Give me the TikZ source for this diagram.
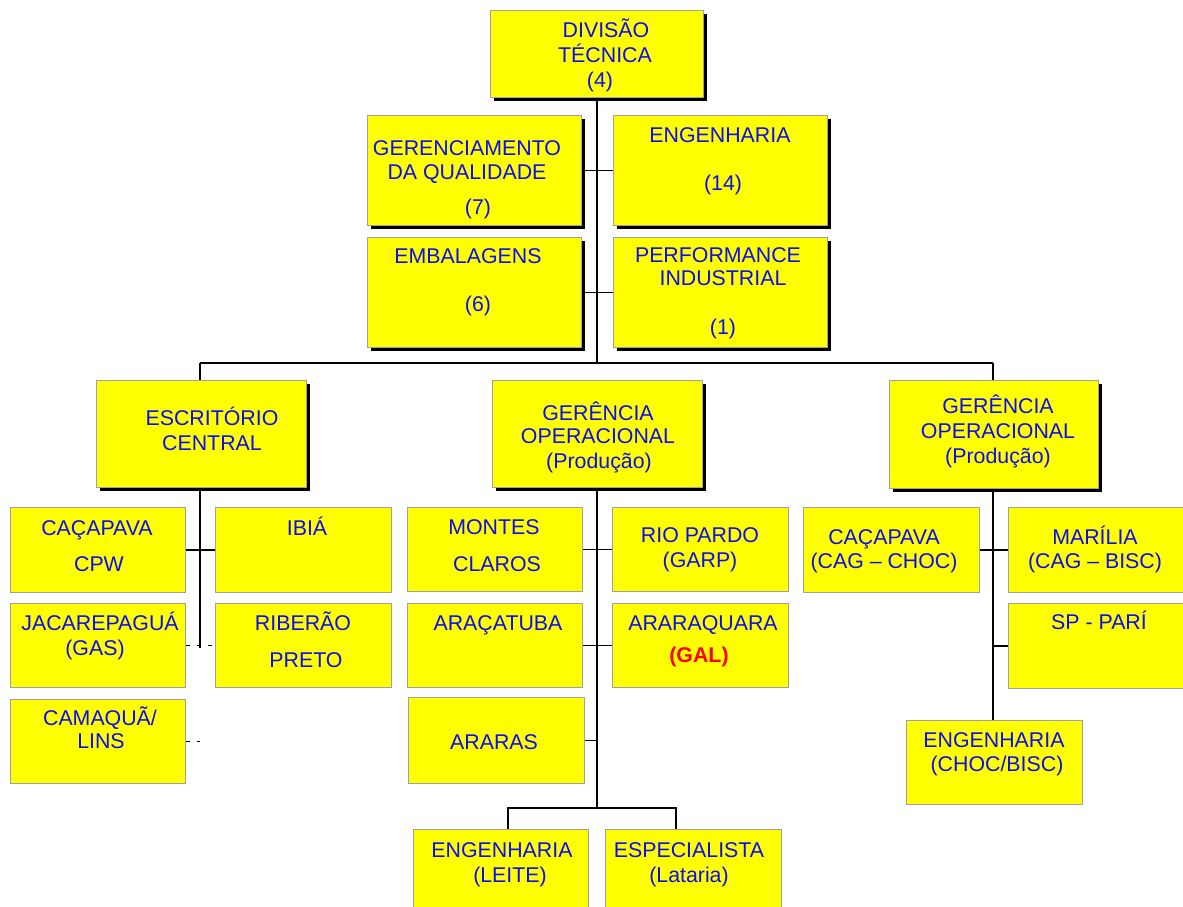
\documentclass[tikz,border=0pt]{standalone}
\usepackage{fontspec}
\setmainfont{Liberation Sans}
\usetikzlibrary{shadows}
\definecolor{tb}{RGB}{12,12,245}
\definecolor{yl}{RGB}{255,255,0}
\definecolor{bd}{RGB}{160,160,160}
\newcommand\fsz{\fontsize{16}{18}\selectfont}
\begin{document}
\begin{tikzpicture}[x=0.75pt,y=-0.75pt,
 box/.style 2 args={draw=bd, fill=yl, line width=0.9pt, inner sep=0pt, anchor=north west, minimum width=#1*0.75pt, minimum height=#2*0.75pt},
 shd/.style={drop shadow={shadow xshift=2.4pt, shadow yshift=-2.4pt, fill=black, opacity=1}},
 tl/.style={text=tb, font=\fsz, inner sep=0pt, text height=11.45pt, text depth=0pt},
 ln/.style={line width=1.2pt, black},
 dl/.style={ln, dash pattern=on 3pt off 5pt}]
\useasboundingbox (0,0) rectangle (1183,907);
\clip (0,0) rectangle (1183,907);
% boxes with shadow
\node[box={213}{87},shd] (dt) at (490,10) {};
\node[box={214}{110},shd] (ger) at (367,115) {};
\node[box={214}{110},shd] (eng) at (613,115) {};
\node[box={214}{110},shd] (emb) at (367,237) {};
\node[box={214}{110},shd] (perf) at (613,237) {};
\node[box={210}{107},shd] (ec) at (96,380) {};
\node[box={210}{107},shd] (go1) at (492,380) {};
\node[box={209}{108},shd] (go2) at (889,380) {};
% left
\node[box={175}{85}] (cac) at (10,507) {};
\node[box={176}{85}] (ibi) at (215,507) {};
\node[box={175}{84}] (jac) at (10,603) {};
\node[box={176}{84}] (rib) at (215,603) {};
\node[box={175}{84}] (cam) at (10,699) {};
% middle
\node[box={175}{84}] (mon) at (407,507) {};
\node[box={176}{84}] (rio) at (612,507) {};
\node[box={175}{84}] (arc) at (407,603) {};
\node[box={176}{84}] (arq) at (612,603) {};
\node[box={176}{86}] (arr) at (408,697) {};
\node[box={175}{100}] (eli) at (413,829) {};
\node[box={176}{100}] (esp) at (605,829) {};
% right
\node[box={176}{85}] (cg) at (803,507) {};
\node[box={190}{85}] (mar) at (1008,507) {};
\node[box={190}{85}] (spp) at (1008,603) {};
\node[box={176}{84}] (en2) at (906,720) {};
% connectors
\coordinate (bL) at (200,363);
\coordinate (bR) at (993,363);
\coordinate (bM) at (597,363);
\draw[ln] (dt.south -| bM) -- (bM);
\draw[ln] (bL) -- (bR);
\draw[ln] (bL) -- (bL |- ec.north);
\draw[ln] (bR) -- (bR |- go2.north);
\draw[ln] (ger.east) -- (eng.west);
\draw[ln] (emb.east) -- (perf.west);
\coordinate (lE) at (200,648);
\draw[ln] (ec.south -| lE) -- (lE);
\draw[ln] (cac.east) -- (ibi.west);
\draw[dl] (jac.east) -- (rib.west);
\draw[dl] (cam.east) -- (cam.east -| lE);
\coordinate (mE) at (597,808);
\coordinate (mL) at (508,808);
\coordinate (mR) at (676,808);
\draw[ln] (go1.south -| mE) -- (mE);
\draw[ln] (mon.east) -- (rio.west);
\draw[ln] (arc.east) -- (arq.west);
\draw[ln] (arr.east) -- (arr.east -| mE);
\draw[ln] (mL |- eli.north) -- (mL) -- (mR) -- (mR |- esp.north);
\draw[ln] (go2.south -| bR) -- (bR |- en2.north);
\draw[ln] (cg.east) -- (mar.west);
\draw[ln] (spp.west) -- (spp.west -| bR);
% texts
\node[tl] (t1) at (606,30) {DIVISÃO};
\node[tl] (t2) at (605,54.5) {TÉCNICA};
\node[tl] (t3) at (600,79.5) {(4)};
\node[tl] (t4) at (467,148) {GERENCIAMENTO};
\node[tl] (t5) at (467,172) {DA QUALIDADE};
\node[tl] (t6) at (478,207) {(7)};
\node[tl] (t7) at (720,134.5) {ENGENHARIA};
\node[tl] (t8) at (723,182.5) {(14)};
\node[tl] (t9) at (468,256) {EMBALAGENS};
\node[tl] (t10) at (478,304) {(6)};
\node[tl] (t11) at (718,254.5) {PERFORMANCE};
\node[tl] (t12) at (723,278) {INDUSTRIAL};
\node[tl] (t13) at (723,327) {(1)};
\node[tl] (t14) at (212,418) {ESCRITÓRIO};
\node[tl] (t15) at (212,443) {CENTRAL};
\node[tl] (t16) at (598,412.5) {GERÊNCIA};
\node[tl] (t17) at (598,436) {OPERACIONAL};
\node[tl] (t18) at (599,461) {(Produção)};
\node[tl] (t19) at (998,406) {GERÊNCIA};
\node[tl] (t20) at (998,431) {OPERACIONAL};
\node[tl] (t21) at (998,456) {(Produção)};
\node[tl] (t22) at (97,528) {CAÇAPAVA};
\node[tl] (t23) at (99,564) {CPW};
\node[tl] (t24) at (307,528) {IBIÁ};
\node[tl] (t25) at (100,623) {JACAREPAGUÁ};
\node[tl] (t26) at (95,647.5) {(GAS)};
\node[tl] (t27) at (303,623) {RIBERÃO};
\node[tl] (t28) at (306,660) {PRETO};
\node[tl] (t29) at (100,718) {CAMAQUÃ/};
\node[tl] (t30) at (101,741) {LINS};
\node[tl] (t31) at (494,527) {MONTES};
\node[tl] (t32) at (497,564) {CLAROS};
\node[tl] (t33) at (700,535) {RIO PARDO};
\node[tl] (t34) at (700,559.5) {(GARP)};
\node[tl] (t35) at (498,623) {ARAÇATUBA};
\node[tl] (t36) at (703,623) {ARARAQUARA};
\node[tl, text=red, font=\fsz\bfseries] (t37) at (699,655) {(GAL)};
\node[tl] (t38) at (494,742) {ARARAS};
\node[tl] (t39) at (502,850) {ENGENHARIA};
\node[tl] (t40) at (510,875) {(LEITE)};
\node[tl] (t41) at (689,850) {ESPECIALISTA};
\node[tl] (t42) at (689,875) {(Lataria)};
\node[tl] (t43) at (884,537) {CAÇAPAVA};
\node[tl] (t44) at (884,561) {(CAG – CHOC)};
\node[tl] (t45) at (1095,537) {MARÍLIA};
\node[tl] (t46) at (1095,561) {(CAG – BISC)};
\node[tl] (t47) at (1099,622) {SP - PARÍ};
\node[tl] (t48) at (994,740) {ENGENHARIA};
\node[tl] (t49) at (997,764) {(CHOC/BISC)};
\end{tikzpicture}
\end{document}
